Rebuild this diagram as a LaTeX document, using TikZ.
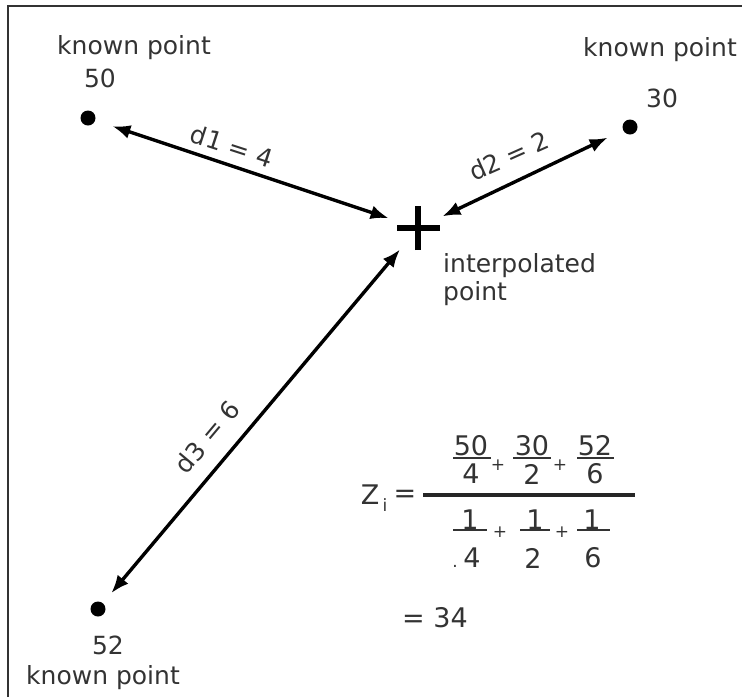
\documentclass[tikz,border=0pt]{standalone}
\usepackage{fontspec}
\setmainfont{DejaVu Sans}
\usetikzlibrary{arrows.meta}
\definecolor{txt}{HTML}{333333}
\definecolor{frame}{HTML}{333333}
\begin{document}
\begin{tikzpicture}[x=1pt,y=-1pt,
 lbl/.style={text=txt, font=\fontsize{25}{28}\selectfont, inner sep=0pt},
 fml/.style={text=txt, font=\fontsize{27}{28}\selectfont, inner sep=0pt},
 sml/.style={text=txt, font=\fontsize{17}{18}\selectfont, inner sep=0pt},
 dot/.style={circle, fill=black, minimum size=15pt, inner sep=0pt},
 arr/.style={line width=3.4pt, {Latex[length=18pt,width=14pt]}-{Latex[length=18pt,width=14pt]}},
 fbar/.style={line width=2.4pt, draw=txt},
 mbar/.style={line width=3.4pt, draw=black!85}]
\useasboundingbox (0,0) rectangle (742,697);
% frame (left and top edges visible)
\draw[frame, line width=2.2pt] (8,697) -- (8,6) -- (742,6);

% known points
\node[dot] (p1) at (88,118) {};
\node[dot] (p2) at (630,127) {};
\node[dot] (p3) at (98,609) {};
\coordinate (c) at (418,228);
\draw[line width=5.5pt] ([xshift=-21pt]c) -- ([xshift=22pt]c);
\draw[line width=5.5pt] ([yshift=-22pt]c) -- ([yshift=22pt]c);

\node[lbl] (k1) at (134,48) {known point};
\node[lbl] (v1) at (100,78) {50};
\node[lbl] (k2) at (660,50) {known point};
\node[lbl] (v2) at (662,98) {30};
\node[lbl] (v3) at (108,645) {52};
\node[lbl] (k3) at (103,678) {known point};
\node[lbl, anchor=west, align=left] (ip) at (443,280) {interpolated\\point};

% distances
\draw[arr, shorten <=18pt, shorten >=31pt] (p1) -- (c);
\draw[arr, shorten <=27pt, shorten >=17pt] (c) -- (p2);
\draw[arr, shorten <=28pt, shorten >=13pt] (c) -- (p3);
\node[lbl, rotate=-18] (d1) at (232,146) {d1 = 4};
\node[lbl, rotate=24] (d2) at (509,156) {d2 = 2};
\node[lbl, rotate=50] (d3) at (207,437) {d3 = 6};

% formula
\node[fml] (z) at (370,495) {Z};
\node[sml] (zi) at (385,505) {i};
\node[fml] (eq) at (405,496) {=};
\draw[mbar] (423,495) -- (635,495);
% numerator
\node[fml] (n1) at (471,446) {50};
\node[fml] (n2) at (532,446) {30};
\node[fml] (n3) at (595,446) {52};
\draw[fbar] (453,458) -- (491,458);
\draw[fbar] (513,458) -- (551,458);
\draw[fbar] (577,458) -- (614,458);
\node[fml] (m1) at (471,474) {4};
\node[fml] (m2) at (532,474) {2};
\node[fml] (m3) at (595,474) {6};
\node[sml] (pa) at (498,465) {+};
\node[sml] (pb) at (560,465) {+};
% denominator
\node[fml] (o1) at (470,520) {1};
\node[fml] (o2) at (535,520) {1};
\node[fml] (o3) at (592,520) {1};
\draw[fbar] (453,530) -- (487,530);
\draw[fbar] (520,530) -- (550,530);
\draw[fbar] (577,530) -- (610,530);
\node[sml] (pc) at (500,532) {+};
\node[sml] (pd) at (562,532) {+};
\node[fml] (q1) at (472,558) {4};
\node[fml] (q2) at (533,558) {2};
\node[fml] (q3) at (593,558) {6};
\node[sml] (qd) at (455,566) {.};
% result
\node[fml, anchor=west] (res) at (402,618) {= 34};
\end{tikzpicture}
\end{document}
